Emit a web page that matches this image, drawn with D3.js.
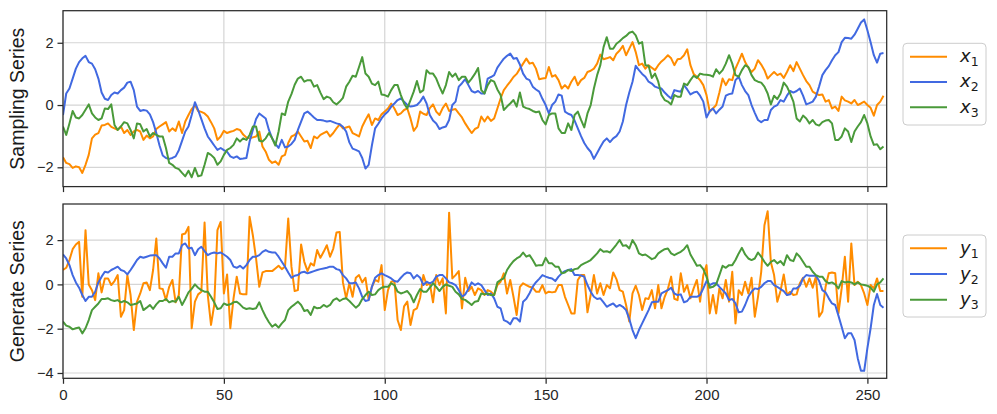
<!DOCTYPE html>
<html><head><meta charset="utf-8">
<script src="https://cdn.jsdelivr.net/npm/d3@7"></script>
<style>body{margin:0;background:#fff}svg{display:block}</style>
</head><body><svg id="c" width="997" height="414"></svg>
<script>
// ---------- data ----------
const xTicks = [0, 50, 100, 150, 200, 250];
const topYTicks = [-2, 0, 2];
const botYTicks = [-4, -2, 0, 2];
const seriesNames = ["1", "2", "3"];

const x1 = [
-1.68,-1.86,-1.90,-2.02,-1.97,-2.00,-2.18,-1.92,-1.60,-1.07,
-0.95,-0.90,-0.66,-0.64,-0.59,-0.70,-0.75,-0.80,-0.69,-0.90,
-0.80,-0.96,-0.85,-0.80,-0.85,-1.12,-0.98,-1.07,-1.01,-0.77,
-0.69,-0.62,-0.55,-0.85,-0.75,-0.83,-0.53,-0.90,-0.53,-0.32,
-0.13,0.00,-0.19,-0.22,-0.27,-0.37,-0.55,-0.75,-1.12,-1.01,
-0.83,-0.90,-0.86,-0.83,-0.77,-0.80,-0.95,-1.04,-1.07,-1.04,
-1.01,-0.85,-1.33,-1.50,-1.76,-1.86,-1.81,-1.92,-1.65,-1.60,
-1.22,-1.01,-0.96,-0.85,-1.01,-1.17,-1.15,-1.38,-1.01,-1.07,
-0.96,-0.90,-0.85,-1.01,-0.90,-0.75,-0.62,-0.75,-0.72,-0.69,
-0.90,-0.95,-1.01,-0.69,-0.48,-0.30,-0.64,-0.43,-0.48,-0.30,
-0.21,-0.11,0.05,-0.11,-0.32,-0.27,-0.16,-0.11,-0.43,-0.83,
-0.69,-0.21,-0.28,-0.32,-0.10,0.02,-0.21,-0.32,-0.10,0.05,
-0.19,-0.15,-0.13,-0.27,-0.40,-0.59,-0.75,-0.90,-0.77,-0.72,
-0.37,-0.53,-0.37,-0.51,-0.43,-0.11,0.21,0.48,0.62,0.75,
0.90,1.00,1.17,1.33,1.49,1.33,1.36,1.17,0.83,0.85,
0.87,1.22,0.91,0.96,0.80,0.53,0.64,0.53,0.75,0.91,
0.64,0.80,0.87,1.06,1.10,1.17,1.33,1.62,1.47,1.50,
1.54,1.44,1.65,1.75,1.90,1.60,1.81,2.02,1.70,1.28,
1.33,1.17,1.28,1.20,1.12,1.28,1.40,1.49,1.60,1.50,
1.28,1.47,1.49,1.60,1.79,1.28,1.00,0.91,0.80,0.64,
0.32,-0.21,-0.11,0.00,0.40,0.85,0.64,0.83,0.80,1.17,
1.40,1.65,1.38,1.20,1.06,1.17,1.44,1.30,1.12,0.85,
0.96,1.06,0.96,1.01,0.87,1.06,1.28,1.09,1.38,1.17,
0.96,0.77,0.64,0.43,0.37,0.32,0.34,0.11,0.16,-0.11,
-0.05,-0.19,0.27,0.15,0.11,0.05,0.16,0.00,0.05,0.11,
0.00,-0.09,-0.34,0.00,0.11,0.30];

const x2 = [
-0.32,0.37,0.53,0.85,1.17,1.38,1.50,1.58,1.38,1.33,
1.15,0.85,0.40,0.20,0.16,0.32,0.40,0.37,0.48,0.56,
0.72,0.75,0.48,-0.05,-0.19,-0.16,-0.18,-0.30,-0.55,-0.90,
-1.30,-1.62,-1.70,-1.73,-1.70,-1.65,-1.45,-1.15,-0.85,-0.69,
-0.32,0.09,-0.16,-0.45,-0.75,-1.01,-1.15,-1.30,-1.44,-1.38,
-1.45,-1.50,-1.65,-1.70,-1.65,-1.73,-1.72,-1.70,-1.17,-0.80,
-0.45,-0.27,-0.35,-0.43,-0.80,-1.07,-1.25,-1.38,-1.12,-1.36,
-1.33,-1.25,-1.12,-0.80,-0.53,-0.27,-0.21,-0.30,-0.40,-0.48,
-0.48,-0.50,-0.53,-0.51,-0.55,-0.59,-0.62,-0.70,-0.85,-1.20,
-1.40,-1.44,-1.49,-1.70,-2.04,-1.92,-1.30,-0.75,-0.60,-0.43,
-0.30,-0.21,-0.05,0.05,0.16,0.21,0.11,0.00,-0.05,-0.03,
0.00,0.11,0.27,0.05,-0.32,-0.50,-0.59,-0.77,-0.72,-0.69,
-0.48,0.00,0.11,0.59,0.70,0.83,0.64,0.45,0.40,0.45,
0.37,0.37,0.85,0.90,0.96,1.20,1.35,1.49,1.58,1.65,
1.49,1.51,1.30,1.01,0.85,0.80,0.59,0.50,0.43,0.20,
0.00,-0.27,0.00,0.11,0.34,0.30,-0.21,-0.28,-0.32,-0.50,
-0.75,-1.00,-1.22,-1.38,-1.50,-1.73,-1.54,-1.35,-1.17,-1.07,
-1.19,-1.07,-1.00,-0.85,-0.53,0.00,0.40,0.75,1.26,1.12,
1.00,0.91,0.75,0.69,0.59,0.55,0.53,0.40,0.30,0.21,
0.48,0.45,0.43,0.64,0.50,0.34,0.40,0.43,0.30,0.11,
-0.40,-0.20,-0.11,-0.27,-0.15,-0.05,0.30,0.35,0.37,0.80,
0.91,0.64,0.45,0.32,0.00,-0.25,-0.48,-0.55,-0.48,-0.48,
-0.16,-0.05,0.00,0.16,0.11,0.30,0.45,0.40,0.45,0.53,
0.30,0.02,0.06,0.11,0.27,0.60,0.96,1.12,1.25,1.44,
1.60,1.70,2.02,2.16,2.15,2.13,2.26,2.45,2.65,2.75,
2.40,2.02,1.60,1.36,1.65,1.67];

const x3 = [
-0.69,-0.96,-0.59,-0.19,-0.40,-0.43,-0.32,-0.15,0.02,-0.27,
-0.40,-0.48,-0.43,-0.11,-0.13,0.02,-0.64,-0.80,-0.69,-0.55,
-0.59,-0.80,-1.07,-0.59,-0.62,-0.85,-0.77,-1.01,-0.90,-0.96,
-1.01,-1.01,-1.38,-1.86,-1.92,-2.02,-2.06,-2.18,-2.29,-2.11,
-2.32,-2.02,-2.29,-2.26,-1.92,-1.54,-1.60,-1.70,-1.92,-1.81,
-1.60,-1.44,-1.38,-1.28,-1.07,-1.17,-1.07,-1.12,-0.96,-0.69,
-0.69,-1.15,-1.17,-1.07,-0.90,-1.07,-1.30,-0.85,-0.27,-0.32,
0.11,0.35,0.65,0.85,0.91,0.75,0.80,0.80,0.59,0.64,
0.40,0.19,0.27,0.23,0.09,0.02,0.11,0.23,0.59,0.75,
0.94,0.91,1.22,1.54,1.01,0.91,0.69,0.64,0.75,0.34,
0.32,0.27,0.48,0.64,0.64,0.32,0.05,-0.11,0.16,0.43,
0.77,0.40,0.48,1.12,1.01,1.01,0.85,0.59,0.37,0.64,
1.06,0.91,1.01,0.80,0.91,0.91,0.72,0.85,1.00,1.19,
0.48,0.37,0.64,0.80,0.75,0.50,0.32,-0.16,-0.05,0.05,
0.16,-0.05,0.40,-0.05,-0.10,-0.13,-0.19,-0.23,-0.21,-0.48,
-0.62,-0.32,-0.27,-0.27,-0.75,-0.90,-0.90,-0.59,-0.80,-0.32,
-0.21,-0.48,-0.72,-0.27,0.00,0.53,0.96,1.28,1.86,2.18,
1.81,1.81,1.97,2.05,2.15,2.22,2.32,2.36,2.24,1.97,
2.02,1.28,1.26,0.87,1.01,0.75,0.32,0.16,0.11,0.02,
0.32,0.27,0.27,0.69,0.64,0.80,0.94,0.87,1.01,0.98,
0.97,0.96,0.91,1.15,1.01,1.12,1.33,1.60,1.33,0.96,
0.91,1.12,1.28,1.22,0.96,0.80,0.75,0.72,0.59,0.37,
0.02,0.30,0.19,0.37,0.72,0.59,0.37,0.11,-0.43,-0.53,
-0.34,-0.43,-0.59,-0.48,-0.62,-0.66,-0.55,-0.50,-0.48,-0.59,
-1.12,-1.12,-1.01,-0.75,-0.85,-1.19,-0.85,-0.69,-0.55,-0.32,
-0.59,-1.01,-1.28,-1.26,-1.42,-1.33];

const y1 = [
0.65,0.75,1.10,1.59,1.80,1.92,-0.56,2.45,0.00,-0.26,
-0.71,0.50,-0.36,0.27,0.27,-0.03,0.15,0.42,-1.46,-1.16,
0.42,-0.48,-2.06,-0.78,-0.41,0.05,0.09,-0.26,0.65,2.07,
-0.18,-0.21,-0.71,-0.11,0.20,-0.81,-0.48,2.25,2.30,2.60,
-1.98,-0.78,-0.45,-0.33,2.79,-0.48,-1.83,-0.93,2.45,2.82,
-0.41,0.45,-1.98,-0.63,0.35,-0.41,-0.45,-0.45,3.05,2.22,
1.17,-0.11,0.54,0.60,0.60,0.60,0.72,0.84,0.69,0.80,
2.97,0.80,-0.30,-0.26,1.80,1.02,0.60,0.95,0.85,1.55,
1.20,1.47,1.77,1.25,1.62,2.34,2.37,0.09,-0.63,0.05,
-0.56,0.30,0.42,0.09,0.30,-0.71,-0.11,0.20,0.12,0.87,
-1.16,-0.26,0.12,0.15,-1.61,-2.06,-0.99,-0.78,-1.83,-1.16,
-1.08,-0.60,0.42,-0.03,0.05,-0.81,0.42,-0.03,0.27,-1.31,
3.24,0.27,0.42,0.60,-1.08,0.30,-0.30,-0.11,-0.48,-0.18,
-0.26,-0.48,-0.26,-0.33,-0.48,-0.03,0.12,0.50,-0.41,0.20,
-0.56,-1.38,-0.11,0.05,-0.03,-0.11,-0.15,-0.33,-0.33,-0.03,
-0.41,-0.33,-0.36,-0.33,-0.03,-0.03,-0.56,-0.93,-1.31,-1.31,
0.20,0.42,0.42,-1.26,-0.48,0.42,-0.41,0.05,-0.48,-0.03,
-0.18,0.54,0.24,-0.26,-0.33,-0.93,-1.68,-0.41,-0.06,-0.48,
-1.16,-0.63,-0.66,-0.26,-1.08,-0.03,-1.08,-0.56,-0.20,0.35,
-0.65,-0.71,0.50,-0.33,-0.03,-0.63,-0.18,0.20,-0.78,0.42,
0.87,-1.31,-0.48,-1.31,-0.18,-0.63,0.20,-0.78,0.57,-1.76,
-0.26,-0.48,0.12,-0.41,0.30,-1.46,-0.56,0.57,2.67,3.30,
1.00,0.42,-0.78,-0.30,0.45,-0.48,-0.33,-0.48,-0.45,0.05,
0.30,-0.11,0.27,-0.15,0.35,-1.46,-1.23,-0.11,0.50,0.54,
0.50,-1.31,-0.18,1.25,-0.78,1.85,-0.03,0.12,-0.03,-0.41,
-0.93,-0.03,-0.18,0.27,-0.30,-0.30];

const y2 = [
1.35,1.17,0.87,0.42,0.09,-0.15,-0.48,-0.75,-0.56,-0.56,
-0.33,0.09,0.35,0.57,0.54,0.65,0.72,0.80,0.65,0.60,
0.45,0.65,0.87,1.10,1.25,1.20,1.25,1.30,1.32,1.32,
1.17,0.95,0.75,1.25,1.25,1.40,1.40,1.77,1.85,1.62,
1.65,1.32,1.59,1.70,1.50,1.32,1.40,1.44,1.40,1.44,
1.35,1.25,1.10,0.80,0.75,0.84,0.72,0.87,1.10,1.25,
1.25,1.32,1.47,1.55,1.47,1.44,1.44,1.25,1.02,0.80,
0.54,0.30,0.39,0.42,0.54,0.57,0.50,0.55,0.60,0.65,
0.69,0.72,0.75,0.80,0.80,0.69,0.65,0.42,0.27,0.05,
0.05,0.09,-0.18,-0.56,-0.75,-0.71,-0.11,0.30,0.42,0.50,
0.42,0.35,0.27,0.15,0.12,0.30,0.45,0.54,0.50,0.27,
0.42,0.30,-0.03,0.12,0.05,0.12,0.35,0.42,0.42,0.27,
0.09,0.05,-0.03,-0.26,-0.56,-0.45,-0.21,0.09,-0.03,0.05,
-0.03,-0.26,-0.48,-0.41,-0.63,-1.01,-1.08,-1.61,-1.68,-1.80,
-1.53,-1.53,-1.68,-0.78,-0.65,-0.40,-0.10,0.10,0.25,0.42,
0.35,0.30,0.27,0.15,0.35,0.50,0.60,0.65,0.69,0.42,
0.42,0.40,0.35,-0.03,-0.33,-0.56,-0.66,-0.63,-0.81,-1.01,
-0.93,-0.86,-1.01,-0.93,-1.01,-1.16,-1.56,-2.06,-2.43,-2.06,
-1.76,-1.46,-1.16,-0.81,-0.78,-0.78,-0.41,-0.33,-0.26,-0.15,
-0.41,-0.48,-0.45,-0.81,-0.75,-0.56,-0.56,-0.56,-0.48,-0.18,
0.15,-0.03,0.05,0.05,-0.11,-0.26,-0.41,-0.71,-0.66,-0.86,
-1.26,-1.23,-0.93,-0.56,-0.33,-0.18,-0.21,-0.11,0.05,0.15,
0.15,-0.03,-0.11,-0.21,-0.30,-0.48,-0.45,-0.18,-0.18,-0.06,
0.27,0.42,0.39,0.39,0.39,0.15,-0.26,-0.36,-0.63,-0.86,
-0.93,-1.41,-1.91,-2.43,-2.21,-2.21,-2.51,-3.33,-3.90,-3.90,
-2.88,-1.98,-0.93,-0.43,-0.93,-1.05];

const y3 = [
-1.68,-1.86,-1.91,-2.03,-1.98,-1.95,-2.21,-1.98,-1.61,-1.16,
-1.01,-0.86,-0.66,-0.66,-0.63,-0.71,-0.75,-0.71,-0.81,-0.75,
-0.81,-0.93,-0.90,-0.86,-0.75,-1.16,-1.05,-0.93,-1.11,-0.90,
-0.75,-0.75,-0.66,-0.81,-0.75,-0.78,-0.56,-0.93,-0.66,-0.36,
-0.20,0.00,-0.15,-0.26,-0.33,-0.33,-0.56,-0.81,-1.11,-1.08,
-0.86,-0.93,-0.90,-0.81,-0.78,-0.90,-1.05,-1.11,-1.08,-1.11,
-1.08,-0.81,-1.16,-1.46,-1.71,-1.91,-1.80,-1.95,-1.76,-1.61,
-1.16,-1.01,-0.90,-0.78,-0.93,-1.20,-1.16,-1.38,-1.01,-1.08,
-1.05,-0.93,-1.01,-0.93,-0.71,-0.63,-0.75,-0.66,-0.63,-0.75,
-0.90,-1.05,-0.93,-0.66,-0.48,-0.33,-0.48,-0.45,-0.26,-0.15,
-0.11,-0.11,0.05,-0.03,-0.33,-0.41,-0.36,-0.30,-0.48,-0.81,
-0.48,-0.21,-0.33,-0.33,-0.15,0.05,-0.11,-0.30,-0.11,0.00,
-0.06,-0.11,-0.33,-0.45,-0.66,-0.70,-0.81,-0.93,-0.78,-0.75,
-0.41,-0.45,-0.41,-0.48,-0.48,0.09,0.20,0.27,0.65,0.87,
1.05,1.17,1.25,1.44,1.25,1.32,1.10,0.84,0.87,0.87,
1.20,0.95,0.95,0.80,0.80,0.50,0.54,0.65,0.60,0.69,
0.72,0.87,0.95,1.02,1.10,1.25,1.40,1.59,1.47,1.50,
1.44,1.62,1.80,2.00,1.74,1.77,1.62,2.00,1.77,1.40,
1.32,1.35,1.25,1.14,1.20,1.40,1.50,1.59,1.62,1.40,
1.32,1.40,1.47,1.59,1.77,1.35,1.10,0.84,0.87,0.69,
0.35,-0.15,-0.11,0.00,0.42,0.84,0.75,0.87,0.87,1.10,
1.40,1.65,1.35,1.17,1.10,1.17,1.44,1.25,1.02,0.84,
1.02,1.10,0.95,1.05,0.87,1.32,1.10,1.05,1.40,1.25,
1.02,0.80,0.80,0.57,0.42,0.35,0.35,0.15,0.05,0.09,
0.00,-0.18,0.15,0.09,0.12,0.09,0.00,0.09,0.00,-0.03,
-0.06,-0.15,-0.33,0.00,0.09,0.27];

// ---------- styling / layout ----------
const colors = ["#ff8c00", "#4169e1", "#4a9a3a"];
const W = 997, H = 414;
const L = 63, R = 886.7;
const xs = d3.scaleLinear().domain([0, 256]).range([L, R]);
const fmt = d => d < 0 ? "\u2212" + Math.abs(d) : String(d);

const panels = [
  {id: "top", top: 10.7, bottom: 186.6, dom: [-2.62, 3.03], ticks: topYTicks,
   series: [x1, x2, x3], label: "Sampling Series", sym: "x", showX: false,
   leg: {x: 903, y: 43.3, w: 83, h: 81.7, rows: [56.7, 81.9, 107.2]}},
  {id: "bot", top: 204, bottom: 378.3, dom: [-4.24, 3.63], ticks: botYTicks,
   series: [y1, y2, y3], label: "Generate Series", sym: "y", showX: true,
   leg: {x: 903, y: 235, w: 83, h: 82, rows: [248.3, 274, 299.8]}}
];

const svg = d3.select("#c");
svg.append("rect").attr("width", W).attr("height", H).attr("fill", "#fff");
const defs = svg.append("defs");

panels.forEach(p => {
  const ys = d3.scaleLinear().domain(p.dom).range([p.bottom, p.top]);
  const g = svg.append("g");
  defs.append("clipPath").attr("id", "clip-" + p.id)
    .append("rect").attr("x", L).attr("y", p.top).attr("width", R - L).attr("height", p.bottom - p.top);

  // grid
  g.selectAll(".vg").data(xTicks).join("line")
    .attr("x1", d => xs(d)).attr("x2", d => xs(d)).attr("y1", p.top).attr("y2", p.bottom)
    .attr("stroke", "#d5d5d5").attr("stroke-width", 1.2);
  g.selectAll(".hg").data(p.ticks).join("line")
    .attr("x1", L).attr("x2", R).attr("y1", d => ys(d)).attr("y2", d => ys(d))
    .attr("stroke", "#d5d5d5").attr("stroke-width", 1.2);

  // lines
  const line = d3.line().x((d, i) => xs(i)).y(d => ys(d));
  const lg = g.append("g").attr("clip-path", "url(#clip-" + p.id + ")");
  p.series.forEach((s, k) => {
    lg.append("path").datum(s).attr("d", line).attr("fill", "none")
      .attr("stroke", colors[k]).attr("stroke-width", 2).attr("stroke-linejoin", "round").attr("stroke-linecap", "butt");
  });

  // frame
  g.append("rect").attr("x", L).attr("y", p.top).attr("width", R - L).attr("height", p.bottom - p.top)
    .attr("fill", "none").attr("stroke", "#2b2b2b").attr("stroke-width", 1.25);

  // y axis
  const ya = g.append("g").attr("transform", `translate(${L},0)`)
    .call(d3.axisLeft(ys).tickValues(p.ticks).tickSize(5.5).tickPadding(4).tickFormat(fmt));
  ya.select(".domain").remove();
  ya.selectAll("line").attr("stroke", "#2b2b2b").attr("stroke-width", 1.25);
  ya.selectAll("text").attr("fill", "#262626").style("font-family", "'Liberation Sans', Arial, sans-serif").style("font-size", "14.5px");

  // x axis
  const xa = g.append("g").attr("transform", `translate(0,${p.bottom})`)
    .call(d3.axisBottom(xs).tickValues(xTicks).tickSize(5.5).tickPadding(6).tickFormat(p.showX ? d3.format("d") : () => ""));
  xa.select(".domain").remove();
  xa.selectAll("line").attr("stroke", "#2b2b2b").attr("stroke-width", 1.25);
  xa.selectAll("text").attr("fill", "#262626").style("font-family", "'Liberation Sans', Arial, sans-serif").style("font-size", "15px");

  // y label
  svg.append("text")
    .attr("transform", `translate(24,${(p.top + p.bottom) / 2}) rotate(-90)`)
    .attr("text-anchor", "middle").attr("fill", "#1a1a1a")
    .style("font-family", "'Liberation Sans', Arial, sans-serif").style("font-size", "19.5px")
    .text(p.label);

  // legend
  const lgd = svg.append("g");
  lgd.append("rect").attr("x", p.leg.x).attr("y", p.leg.y).attr("width", p.leg.w).attr("height", p.leg.h)
    .attr("rx", 4).attr("fill", "#fff").attr("stroke", "#cccccc").attr("stroke-width", 1);
  p.leg.rows.forEach((yy, k) => {
    lgd.append("line").attr("x1", 910).attr("x2", 947).attr("y1", yy).attr("y2", yy)
      .attr("stroke", colors[k]).attr("stroke-width", 2);
    const t = lgd.append("text").attr("x", 960).attr("y", yy + 5.5).attr("fill", "#1a1a1a")
      .style("font-family", "'DejaVu Sans', sans-serif").style("font-size", "18px");
    t.append("tspan").style("font-style", "italic").text(p.sym);
    t.append("tspan").attr("dy", 4).style("font-size", "12.5px").text(seriesNames[k]);
  });
});
</script>
</body></html>
